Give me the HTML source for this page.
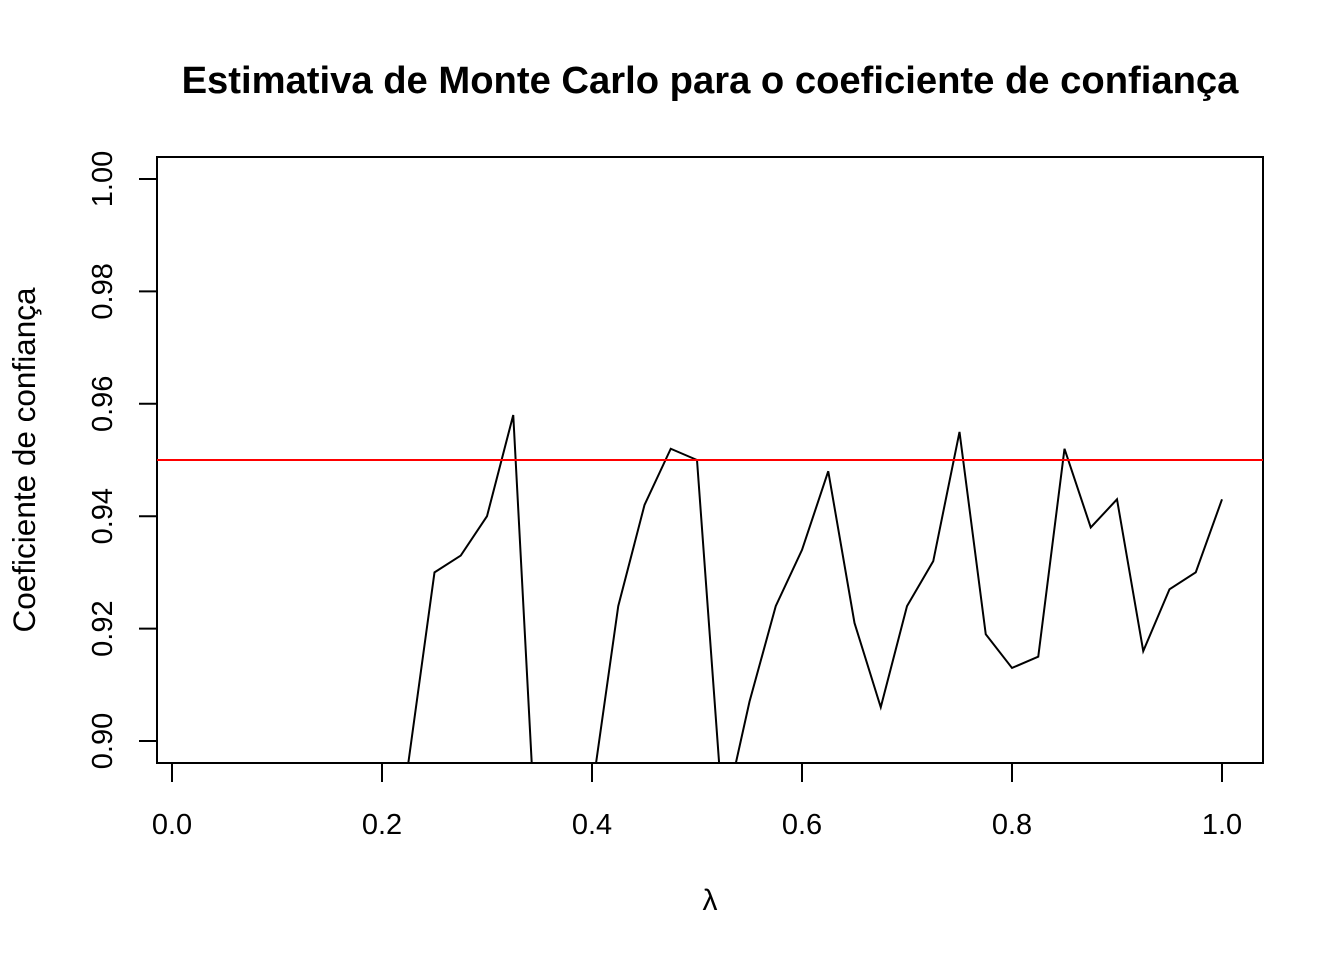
<!DOCTYPE html>
<html><head><meta charset="utf-8"><style>
html,body{margin:0;padding:0;background:#fff;overflow:hidden;width:1344px;height:960px}
svg{display:block}
text{font-family:"Liberation Sans",Arial,sans-serif}
</style></head><body>
<svg id="chart" width="1344" height="960" xmlns="http://www.w3.org/2000/svg">
<defs><clipPath id="clip"><rect x="157" y="157" width="1106" height="606"/></clipPath></defs>
<rect width="1344" height="960" fill="#fff"/>
<text x="710" y="93" text-anchor="middle" font-size="38.2" font-weight="bold">Estimativa de Monte Carlo para o coeficiente de confiança</text>
<rect x="157" y="157" width="1106" height="606" fill="none" stroke="#000" stroke-width="2"/>
<g id="xaxis"></g>
<g id="yaxis"></g>
<text x="710" y="910" text-anchor="middle" font-size="30" font-family="Liberation Serif">λ</text>
<text transform="translate(35,460) rotate(-90)" text-anchor="middle" font-size="31.5">Coeficiente de confiança</text>
<g id="plot" clip-path="url(#clip)"></g>
</svg>
<script>
const lambdas=[0,0.025,0.05,0.075,0.1,0.125,0.15,0.175,0.2,0.225,0.25,0.275,0.3,0.325,0.35,0.375,0.4,0.425,0.45,0.475,0.5,0.525,0.55,0.575,0.6,0.625,0.65,0.675,0.7,0.725,0.75,0.775,0.8,0.825,0.85,0.875,0.9,0.925,0.95,0.975,1.0];
const coverage=[0.87,0.87,0.87,0.87,0.87,0.87,0.87,0.87,0.88,0.896,0.930,0.933,0.940,0.958,0.87,0.87,0.891,0.924,0.942,0.952,0.950,0.886,0.907,0.924,0.934,0.948,0.921,0.906,0.924,0.932,0.955,0.919,0.913,0.915,0.952,0.938,0.943,0.916,0.927,0.930,0.943];
const xTicks=[0,0.2,0.4,0.6,0.8,1.0];
const xTickLabels=["0.0","0.2","0.4","0.6","0.8","1.0"];
const yTicks=[0.90,0.92,0.94,0.96,0.98,1.00];
const yTickLabels=["0.90","0.92","0.94","0.96","0.98","1.00"];
const refLevel=[0.95];
const NS="http://www.w3.org/2000/svg";
const sx=v=>172+v*1050;
const sy=v=>741-(v-0.9)*5620;
function mk(tag,attrs,parent){const e=document.createElementNS(NS,tag);for(const k in attrs)e.setAttribute(k,attrs[k]);parent.appendChild(e);return e;}
const xa=document.getElementById('xaxis'),ya=document.getElementById('yaxis'),pl=document.getElementById('plot');
xTicks.forEach((t,i)=>{
 const l=mk('line',{x1:sx(t),x2:sx(t),y1:763,y2:782,stroke:'#000','stroke-width':2},xa);
 
 
 const tx=mk('text',{x:sx(t),y:834,'text-anchor':'middle','font-size':29},xa);tx.textContent=xTickLabels[i];
 
 
});
yTicks.forEach((t,i)=>{
 const l=mk('line',{x1:139,x2:157,y1:sy(t),y2:sy(t),stroke:'#000','stroke-width':2},ya);
 
 
 const tx=mk('text',{transform:`translate(112,${sy(t)}) rotate(-90)`,'text-anchor':'middle','font-size':29},ya);tx.textContent=yTickLabels[i];
 
 
});
const pts=lambdas.map((x,i)=>sx(x)+','+sy(coverage[i])).join(' ');
const line=mk('polyline',{points:pts,fill:'none',stroke:'#000','stroke-width':2},pl);


refLevel.forEach(r=>{
 const h=mk('line',{x1:157,x2:1263,y1:sy(r),y2:sy(r),stroke:'#ff0000','stroke-width':2},pl);
 
 
});
</script>
</body></html>
